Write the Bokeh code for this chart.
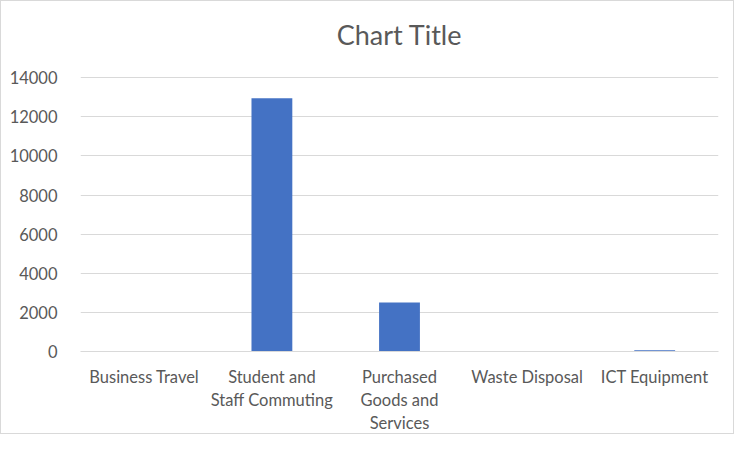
from bokeh.plotting import figure
from bokeh.models import Range1d, FactorRange, FixedTicker
from bokeh.core.properties import value
from bokeh.embed import file_html
from bokeh.resources import INLINE

categories = ["Business Travel", "Student and\nStaff Commuting", "Purchased\nGoods and\nServices",
              "Waste Disposal", "ICT Equipment"]
values = [0, 12950, 2500, 0, 60]
y_ticks = [0, 2000, 4000, 6000, 8000, 10000, 12000, 14000]
title_text = "Chart Title"

FONT = "Lato"
GREY = "#595959"
GRID = "#d9d9d9"
BAR = "#4472c4"

y_max = y_ticks[-1]
px_per_unit = 273 / y_max          # frame pixels per data unit
top_room = 66                      # pixels between top tick and top of the frame
title_gap = 43                     # pixels between top tick and title centre

p = figure(width=734, height=434, output_backend="svg", toolbar_location=None,
           x_range=FactorRange(factors=categories, range_padding=0),
           y_range=Range1d(0, y_max + top_room / px_per_unit),
           min_border_left=79, min_border_right=17, min_border_top=10, min_border_bottom=84)
p.styles = {"border": "1px solid #d9d9d9"}

p.vbar(x=categories, top=values, width=0.32, color=BAR, line_color=None)

# chart title, centred over the middle category
p.text(x=[categories[len(categories) // 2]], y=[y_max + title_gap / px_per_unit], text=[title_text],
       text_align="center", text_baseline="middle", text_font=value(FONT),
       text_font_size="27px", text_color=GREY)

p.outline_line_color = None
p.xgrid.grid_line_color = None
p.ygrid.grid_line_color = GRID
p.ygrid.grid_line_width = 1

p.yaxis.ticker = FixedTicker(ticks=y_ticks)
p.yaxis.axis_line_color = None
p.yaxis.major_tick_line_color = None
p.yaxis.minor_tick_line_color = None
p.yaxis.major_label_standoff = 17
p.yaxis.major_label_text_font = FONT
p.yaxis.major_label_text_font_size = "16.5px"
p.yaxis.major_label_text_color = GREY

p.xaxis.axis_line_color = GRID
p.xaxis.major_tick_line_color = None
p.xaxis.minor_tick_line_color = None
p.xaxis.major_label_standoff = 9
p.xaxis.major_label_text_font = FONT
p.xaxis.major_label_text_font_size = "16.5px"
p.xaxis.major_label_text_color = GREY
p.xaxis.major_label_text_line_height = 1.15
p.xaxis.major_label_orientation = "horizontal"

open("out.html", "w").write(file_html(p, INLINE))
